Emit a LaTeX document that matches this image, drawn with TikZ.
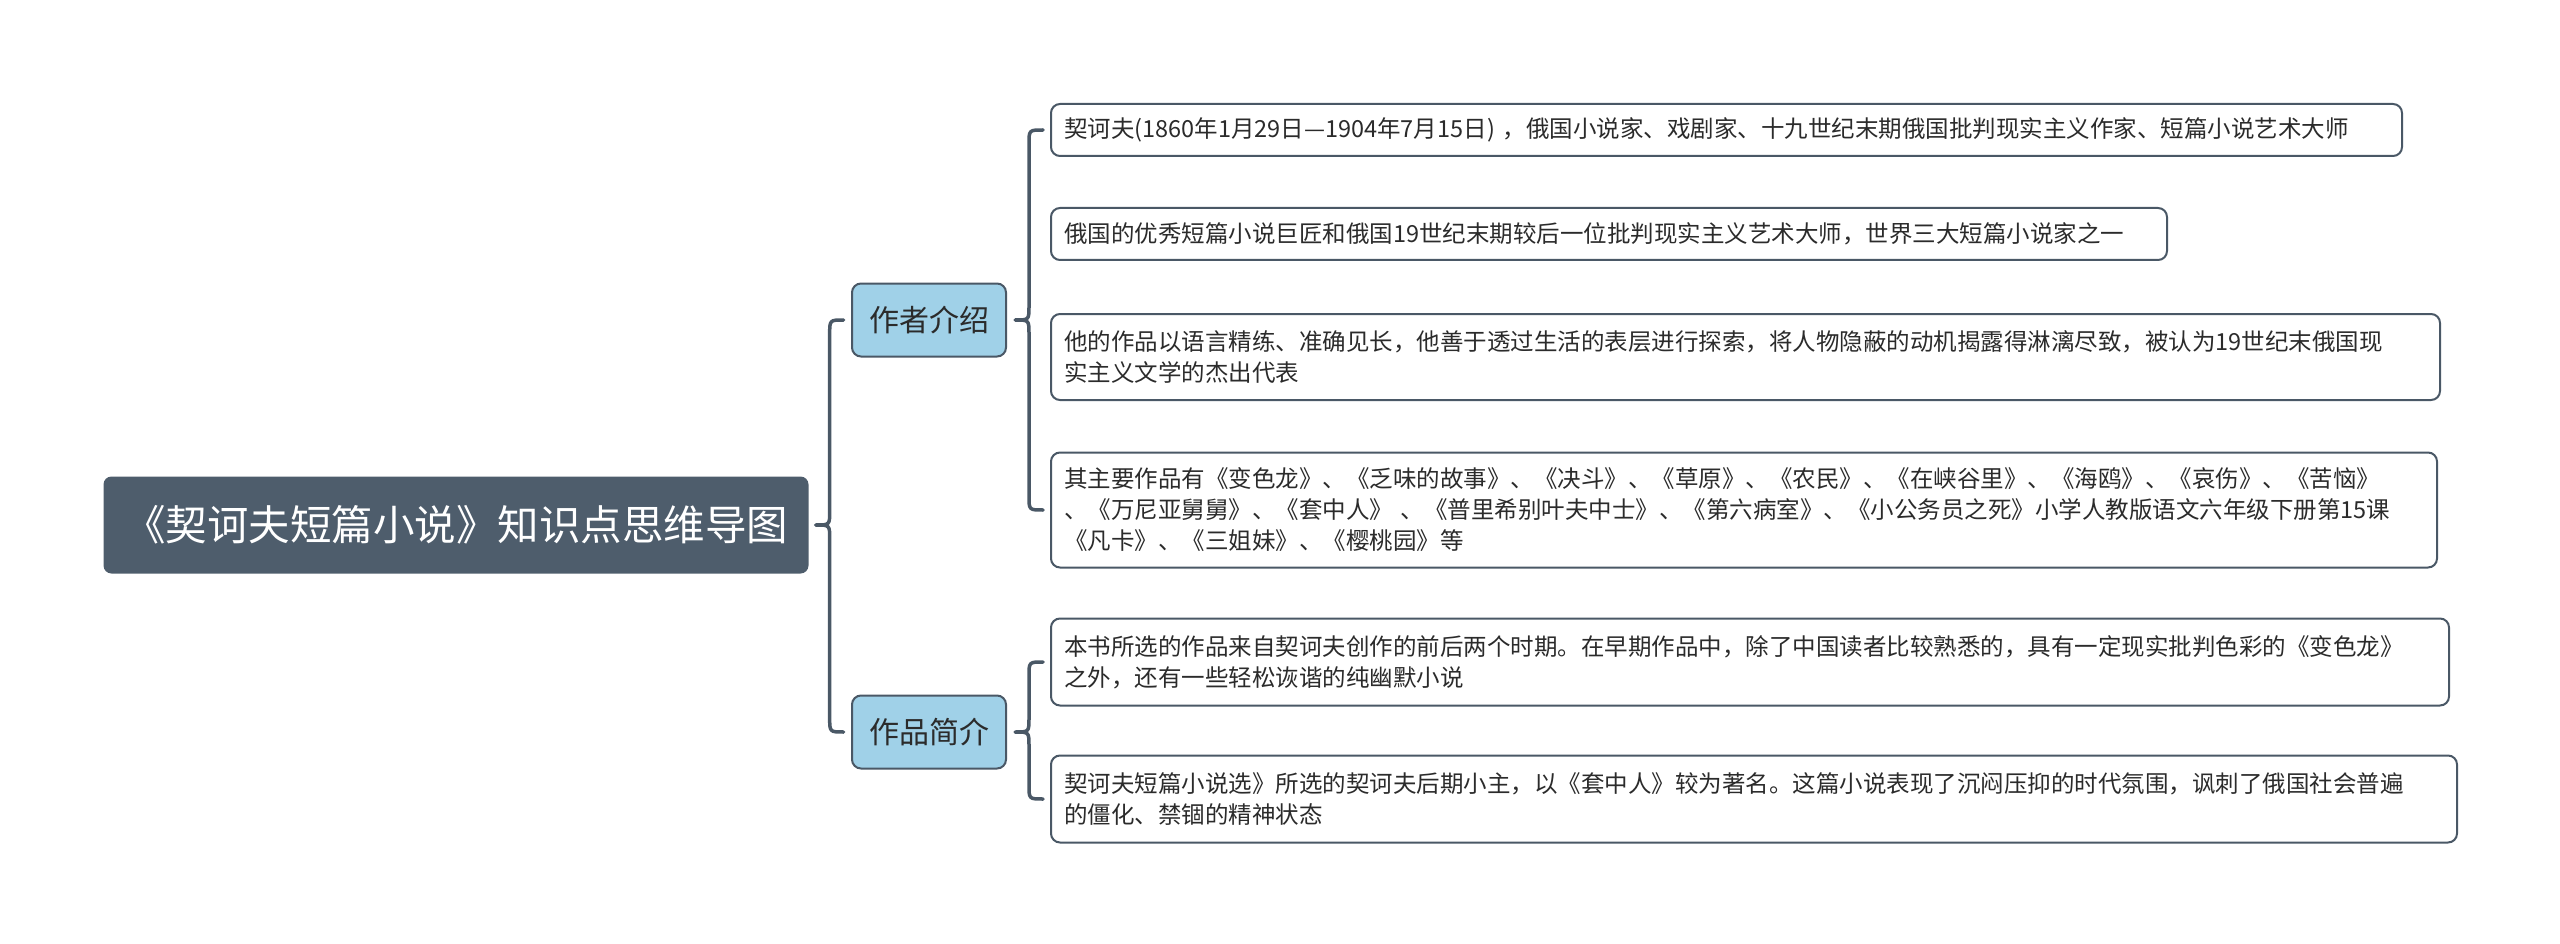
\documentclass[tikz,border=0pt]{standalone}
\usepackage{fontspec}
\setmainfont{Noto Sans CJK SC}
\usetikzlibrary{calc}
\definecolor{rootc}{HTML}{4E5D6C}
\definecolor{linec}{HTML}{4A5866}
\definecolor{catc}{HTML}{A0D1E8}
\definecolor{txtc}{HTML}{2B2B2B}
\tikzset{
  rootbox/.style={fill=rootc, rounded corners=8pt, text=white, inner sep=0pt,
    minimum width=705pt, minimum height=97pt, font=\fontsize{41.5}{48}\selectfont},
  catbox/.style={fill=catc, draw=linec, line width=2pt, rounded corners=9pt, text=txtc,
    inner sep=0pt, minimum width=154pt, minimum height=73pt, font=\fontsize{30}{36}\selectfont},
  leafbox/.style={fill=white, draw=linec, line width=2pt, rounded corners=9pt, text=txtc,
    anchor=west, align=left, inner xsep=13pt, inner ysep=4pt,
    font=\fontsize{23.5}{31}\selectfont},
  bracec/.style={draw=linec, line width=3.5pt, line cap=round, line join=round}
}
\newcommand{\mybrace}[3]{%
  \draw[bracec] let \p1=(#1), \p2=(#2), \p3=(#3) in
    (\x1+28,\y2) .. controls (\x1+14,\y2) .. (\x1+14,\y2-14)
    -- (\x1+14,\y1+14) .. controls (\x1+14,\y1) .. (\x1,\y1)
    .. controls (\x1+14,\y1) .. (\x1+14,\y1-14)
    -- (\x1+14,\y3+14) .. controls (\x1+14,\y3) .. (\x1+28,\y3);}
\begin{document}
\begin{tikzpicture}[x=1pt,y=-1pt]
\useasboundingbox (0,0) rectangle (2560,944);
\node[rootbox] (root) at (456,525) {《契诃夫短篇小说》知识点思维导图};
\node[catbox] (c1) at (929,320) {作者介绍};
\node[catbox] (c2) at (929,732) {作品简介};
\node[leafbox, text width=1325pt, minimum height=52pt] (l1) at (1050,130)
  {契诃夫(1860年1月29日—1904年7月15日) ，俄国小说家、戏剧家、十九世纪末期俄国批判现实主义作家、短篇小说艺术大师};
\node[leafbox, text width=1090pt, minimum height=52pt] (l2) at (1050,234)
  {俄国的优秀短篇小说巨匠和俄国19世纪末期较后一位批判现实主义艺术大师，世界三大短篇小说家之一};
\node[leafbox, text width=1363pt, minimum height=86pt] (l3) at (1050,357)
  {他的作品以语言精练、准确见长，他善于透过生活的表层进行探索，将人物隐蔽的动机揭露得淋漓尽致，被认为19世纪末俄国现\\实主义文学的杰出代表};
\node[leafbox, text width=1360pt, minimum height=115pt] (l4) at (1050,510)
  {其主要作品有《变色龙》、《乏味的故事》、《决斗》、《草原》、《农民》、《在峡谷里》、《海鸥》、《哀伤》、《苦恼》\\、《万尼亚舅舅》、《套中人》 、《普里希别叶夫中士》、《第六病室》、《小公务员之死》小学人教版语文六年级下册第15课\\《凡卡》、《三姐妹》、《樱桃园》等};
\node[leafbox, text width=1372pt, minimum height=87pt] (l5) at (1050,662)
  {本书所选的作品来自契诃夫创作的前后两个时期。在早期作品中，除了中国读者比较熟悉的，具有一定现实批判色彩的《变色龙》\\之外，还有一些轻松诙谐的纯幽默小说};
\node[leafbox, text width=1380pt, minimum height=87pt] (l6) at (1050,799)
  {契诃夫短篇小说选》所选的契诃夫后期小主，以《套中人》较为著名。这篇小说表现了沉闷压抑的时代氛围，讽刺了俄国社会普遍\\的僵化、禁锢的精神状态};
\coordinate (t0) at ($(root.east)+(7,0)$);
\coordinate (t1) at ($(c1.east)+(8,0)$);
\coordinate (t2) at ($(c2.east)+(8,0)$);
\mybrace{t0}{c1.west}{c2.west}
\mybrace{t1}{l1.west}{l4.west}
\mybrace{t2}{l5.west}{l6.west}
\end{tikzpicture}
\end{document}
